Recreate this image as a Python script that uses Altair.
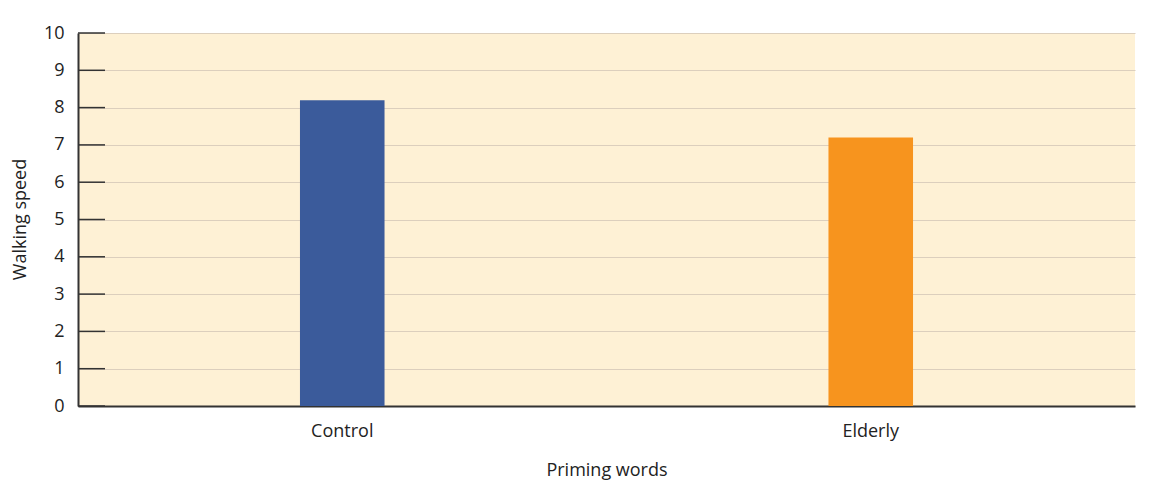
import altair as alt
import pandas as pd

categories = ["Control", "Elderly"]
values = [8.2, 7.2]
colors = ["#3b5b9b", "#f7941e"]
y_ticks = list(range(0, 11))

df = pd.DataFrame({"cat": categories, "val": values, "color": colors})
ticks_df = pd.DataFrame({"t": y_ticks})

FONT = "Open Sans"

y_scale = alt.Scale(domain=[0, 10], nice=False)
y_axis = alt.Axis(title="Walking speed", values=y_ticks, labelFontSize=18,
                  labelOverlap=False,
                  labelFont=FONT, labelColor="#222", labelPadding=14,
                  ticks=False, domainColor="#333", domainWidth=2,
                  grid=True, gridColor="#dccfbd", gridWidth=1.2,
                  titleFont=FONT, titleFontSize=18, titleFontWeight="normal",
                  titleColor="#222", titleX=-58, titleY=186,
                  titleAngle=-90, titleAlign="center", titleBaseline="middle")

bars = alt.Chart(df).mark_bar().encode(
    x=alt.X("cat:N", sort=categories,
            scale=alt.Scale(paddingInner=0.84, paddingOuter=0.42),
            axis=alt.Axis(title="Priming words", labelAngle=0, labelFontSize=18,
                          labelFont=FONT, labelColor="#222", labelPadding=16,
                          ticks=False, domainColor="#333", domainWidth=2,
                          titleFont=FONT, titleFontSize=18, titleFontWeight="normal",
                          titleColor="#222", titleY=64, titleBaseline="middle")),
    y=alt.Y("val:Q", scale=y_scale, axis=y_axis),
    color=alt.Color("color:N", scale=None),
)

tick_marks = alt.Chart(ticks_df).mark_rule(color="#333", strokeWidth=1.5).encode(
    y=alt.Y("t:Q", scale=y_scale, axis=y_axis),
    x=alt.value(0),
    x2=alt.value(27),
)

chart = alt.layer(bars, tick_marks).properties(
    width=1057,
    height=373,
    padding={"left": 70, "top": 25, "right": 6, "bottom": 78},
    autosize=alt.AutoSizeParams(type="none"),
    background="white",
).configure_view(
    fill="#fef1d5",
    stroke=None,
)

chart.save("out.html", embed_options={"renderer": "svg", "actions": False})
